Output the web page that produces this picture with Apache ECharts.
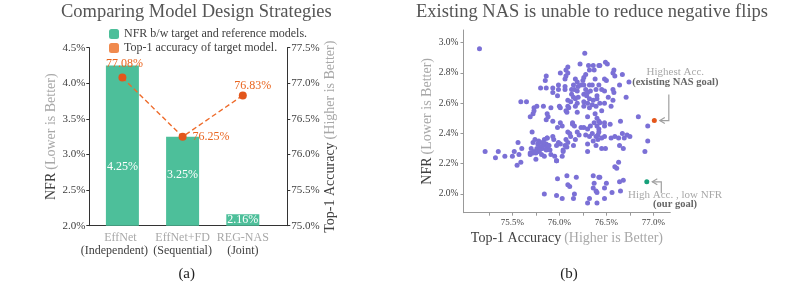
<!DOCTYPE html>
<html><head><meta charset="utf-8">
<script src="https://cdn.jsdelivr.net/npm/echarts@6/dist/echarts.min.js"></script>
<style>html,body{margin:0;padding:0;background:#fff}#c{width:788px;height:286px}</style>
</head><body><div id="c"></div>
<script>
// ---------- Panel (a) data ----------
const categories = ['EffNet', 'EffNet+FD', 'REG-NAS'];
const categoryModes = ['(Independent)', '(Sequential)', '(Joint)'];
const nfrValues = [4.25, 3.25, 2.16];          // NFR b/w target and reference models (%)
const accValues = [77.08, 76.25, 76.83];       // Top-1 accuracy of target model (%)

// ---------- Panel (b) data: [Top-1 accuracy %, NFR %] ----------
const nasModels = [
  [75.15,2.96],[75.59,2.61],[75.65,2.61],[75.73,2.57],[75.72,2.53],[75.69,2.51],
  [76.27,2.93],[76.22,2.86],[76.31,2.85],[76.36,2.85],[76.42,2.85],[76.32,2.82],[76.37,2.82],
  [76.09,2.84],[76.07,2.82],[76.09,2.80],[76.01,2.80],[76.07,2.78],[76.06,2.76],[76.17,2.76],
  [76.26,2.77],[76.28,2.79],[76.25,2.75],[76.38,2.76],[75.86,2.78],[75.85,2.75],[75.80,2.70],
  [75.86,2.70],[75.93,2.70],[75.99,2.72],[75.99,2.69],[76.06,2.71],[76.06,2.69],[76.15,2.72],
  [76.19,2.74],[76.20,2.71],[76.23,2.72],[76.26,2.72],[76.32,2.72],[76.35,2.72],[76.42,2.72],
  [76.13,2.69],[76.16,2.69],[76.19,2.68],[76.28,2.69],[76.30,2.67],[76.33,2.68],[76.39,2.69],
  [75.93,2.67],[75.98,2.65],[76.13,2.66],[76.15,2.64],[76.17,2.63],[76.20,2.64],[76.26,2.66],
  [76.29,2.65],[76.32,2.63],[76.36,2.62],[76.40,2.63],[76.40,2.65],[76.12,2.61],[76.19,2.60],
  [76.26,2.61],[76.30,2.60],[76.26,2.58],[76.32,2.57],[76.35,2.59],[76.39,2.58],[76.09,2.62],
  [76.09,2.58],[76.00,2.58],[76.01,2.57],[75.91,2.57],[75.83,2.58],[75.76,2.58],[76.07,2.55],
  [76.17,2.58],[76.10,2.57],[75.73,2.55],[75.87,2.53],[75.88,2.51],[75.86,2.49],[75.93,2.48],
  [76.08,2.54],[76.19,2.54],[76.30,2.51],[76.38,2.53],[76.40,2.50],[76.42,2.48],[76.14,2.47],
  [76.01,2.47],
  [76.43,2.85],[76.49,2.87],[76.51,2.86],[76.58,2.82],[76.57,2.80],[76.59,2.78],[76.48,2.76],
  [76.50,2.75],[76.67,2.79],[76.64,2.72],[76.74,2.74],[76.45,2.69],[76.48,2.68],[76.57,2.69],
  [76.58,2.67],[76.52,2.64],[76.57,2.62],[76.43,2.60],[76.48,2.60],[76.55,2.58],[76.71,2.64],
  [76.45,2.55],[76.84,2.51],[76.65,2.48],[76.48,2.47],
  [75.71,2.41],[75.72,2.34],[75.74,2.36],[75.56,2.34],[75.70,2.30],[75.60,2.30],[75.52,2.28],
  [75.69,2.26],[75.72,2.27],[75.35,2.28],[75.21,2.28],[75.42,2.25],[75.50,2.25],[75.57,2.26],
  [75.32,2.24],[75.55,2.19],[75.59,2.21],
  [75.98,2.44],[76.03,2.45],[76.14,2.46],[76.16,2.45],[76.23,2.44],[76.26,2.44],[76.30,2.43],
  [76.33,2.45],[76.37,2.47],[76.40,2.45],[76.42,2.43],[76.09,2.41],[76.11,2.40],[76.19,2.41],
  [76.21,2.39],[76.28,2.39],[76.32,2.38],[76.35,2.40],[76.39,2.38],[76.42,2.41],[75.93,2.38],
  [75.87,2.37],[75.84,2.36],[75.78,2.35],[75.77,2.33],[75.80,2.34],[75.86,2.33],[75.83,2.32],
  [75.87,2.31],[75.89,2.32],[75.82,2.30],[75.86,2.29],[75.78,2.28],[75.75,2.27],[75.75,2.23],
  [75.94,2.36],[75.99,2.34],[75.97,2.32],[76.01,2.33],[76.07,2.36],[76.06,2.32],[76.09,2.34],
  [76.04,2.29],[76.15,2.32],[76.17,2.36],[76.12,2.38],[75.91,2.26],[75.97,2.22],[76.30,2.33],
  [76.39,2.32],[76.30,2.28],[76.41,2.36],[76.36,2.35],
  [76.08,2.12],[75.98,2.10],[76.09,2.06],[76.11,2.05],[76.18,2.11],[76.36,2.12],[76.42,2.11],
  [76.37,2.07],[76.36,2.04],[76.39,2.02],[76.40,2.01],[76.16,2.00],[75.84,2.00],[75.97,1.99],
  [76.03,1.97],[76.15,1.97],[76.32,1.97],[76.30,1.94],[76.40,1.94],
  [76.43,2.47],[76.48,2.45],[76.54,2.46],[76.41,2.39],[76.45,2.37],[76.48,2.38],[76.55,2.37],
  [76.59,2.38],[76.63,2.37],[76.67,2.40],[76.69,2.37],[76.72,2.39],[76.75,2.38],[76.45,2.30],
  [76.49,2.30],[76.64,2.32],[76.68,2.30],[76.94,2.45],[76.94,2.35],[76.91,2.28],[76.59,2.18],
  [76.61,2.17],[76.63,2.21],[76.43,2.11],[76.50,2.07],[76.64,2.08],[76.68,2.09],[76.48,2.04],
  [76.56,2.01],[76.65,2.02],[76.48,1.97],
  [75.69,2.27],[75.73,2.28],[75.76,2.30],[75.79,2.31],[75.83,2.34],[75.87,2.37],[75.79,2.29],
  [75.81,2.26],[75.84,2.25],[75.87,2.30],[75.88,2.32],[75.90,2.29],[75.95,2.25],[75.97,2.22],
  [76.03,2.25],[76.04,2.28],[76.08,2.31]
];
const highestAccModel = [77.01, 2.485];   // existing NAS goal
const ourGoalModel = [76.93, 2.08];       // high acc., low NFR

const accTickValues = [75.25, 75.5, 75.75, 76.0, 76.25, 76.5, 76.75, 77.0];
const accLabelValues = [75.5, 76.0, 76.5, 77.0];
const nfrTickValues = [2.0, 2.2, 2.4, 2.6, 2.8, 3.0];

// ---------- styling ----------
const F = '"Liberation Serif", "Times New Roman", serif';
const GREEN = '#4dbf9a', ORANGE = '#e9651f', PURPLE = '#7b70d6';
const DARK = '#404040', LIGHT = '#a8a8a8';
const pct1 = v => v.toFixed(1) + '%';

const barLabelTop = [101, 38, 6];   // label centre offset from bar top (px)
const lineLabels = [
  {position: 'top', distance: 4, offset: [2, 0]},
  {position: 'right', distance: 6},
  {position: 'top', distance: 0, offset: [10, 0]}
];

const chart = echarts.init(document.getElementById('c'), null, {renderer: 'canvas'});

const nameRich = {
  d: {color: DARK, fontSize: 14, fontFamily: F},
  l: {color: LIGHT, fontSize: 14, fontFamily: F}
};
const catRich = {
  a: {color: LIGHT, fontSize: 12, fontFamily: F, lineHeight: 12.5},
  b: {color: DARK, fontSize: 12, fontFamily: F, lineHeight: 12.5},
  a0: {color: LIGHT, fontSize: 12, fontFamily: F, lineHeight: 12.5, padding: [0, 4, 0, 0]},
  b0: {color: DARK, fontSize: 12, fontFamily: F, lineHeight: 12.5, padding: [0, 16, 0, 0]}
};

const option = {
  animation: false,
  backgroundColor: '#fff',
  textStyle: {fontFamily: F},
  legend: {
    orient: 'vertical', left: 104, top: 23, itemWidth: 10, itemHeight: 10, itemGap: 2,
    textStyle: {fontSize: 12, color: DARK, fontFamily: F},
    selectedMode: false,
    data: [
      {name: 'NFR b/w target and reference models.', icon: 'roundRect', itemStyle: {color: GREEN}},
      {name: 'Top-1 accuracy of target model.', icon: 'roundRect', itemStyle: {color: '#f08a4e'}}
    ]
  },
  grid: [
    {left: 92.3, top: 47.7, width: 180.6, height: 178, outerBoundsMode: 'none'},
    {left: 89.3, top: 47.7, width: 198, height: 178, outerBoundsMode: 'none'},
    {left: 463.5, top: 30, width: 206.8, height: 182.7, outerBoundsMode: 'none'}
  ],
  xAxis: [
    {
      gridIndex: 0, type: 'category', data: categories,
      axisLine: {show: false}, axisTick: {show: false}, splitLine: {show: false},
      axisLabel: {
        margin: 6, interval: 0,
        formatter: (v, i) => i === 0
          ? '{a0|' + v + '}\n{b0|' + categoryModes[i] + '}'
          : '{a|' + v + '}\n{b|' + categoryModes[i] + '}',
        rich: catRich
      }
    },
    {
      gridIndex: 1, type: 'value', min: 0, max: 1,
      axisLine: {show: true, lineStyle: {color: '#333', width: 1}},
      axisTick: {show: false}, axisLabel: {show: false}, splitLine: {show: false}
    },
    {
      gridIndex: 2, type: 'value', min: 74.98, max: 77.18,
      axisLine: {show: true, lineStyle: {color: '#999', width: 1}},
      axisTick: {show: true, customValues: accTickValues, length: 3, lineStyle: {color: '#999'}},
      axisLabel: {customValues: accLabelValues, formatter: pct1, fontSize: 9, color: DARK, fontFamily: F, margin: 5},
      splitLine: {show: false},
      name: '{d|Top-1 Accuracy} {l|(Higher is Better)}', nameLocation: 'middle', nameGap: 14,
      nameTextStyle: {rich: nameRich}
    }
  ],
  yAxis: [
    {
      gridIndex: 0, type: 'value', position: 'left', offset: 3, min: 2, max: 4.5, interval: 0.5,
      axisLine: {show: true, lineStyle: {color: '#333', width: 1}},
      axisTick: {show: true, length: 3, lineStyle: {color: '#333'}},
      axisLabel: {formatter: pct1, fontSize: 11, color: DARK, fontFamily: F, margin: 4},
      splitLine: {show: false},
      name: '{d|NFR} {l|(Lower is Better)}', nameLocation: 'middle', nameRotate: 90, nameGap: 25,
      nameTextStyle: {rich: nameRich}
    },
    {
      gridIndex: 0, type: 'value', position: 'right', offset: 14.4, min: 75, max: 77.5, interval: 0.5,
      axisLine: {show: true, lineStyle: {color: '#333', width: 1}},
      axisTick: {show: true, length: 3, lineStyle: {color: '#333'}},
      axisLabel: {formatter: pct1, fontSize: 11, color: DARK, fontFamily: F, margin: 4},
      splitLine: {show: false},
      name: '{d|Top-1 Accuracy} {l|(Higher is Better)}', nameLocation: 'middle', nameRotate: 90, nameGap: 34,
      nameTextStyle: {rich: nameRich}
    },
    {gridIndex: 1, type: 'value', show: false, min: 0, max: 1},
    {
      gridIndex: 2, type: 'value', min: 1.876, max: 3.084,
      axisLine: {show: true, lineStyle: {color: '#999', width: 1}},
      axisTick: {show: true, customValues: nfrTickValues, length: 3, lineStyle: {color: '#999'}},
      axisLabel: {customValues: nfrTickValues, formatter: pct1, fontSize: 9.5, color: DARK, fontFamily: F, margin: 5},
      splitLine: {show: false},
      name: '{d|NFR} {l|(Lower is Better)}', nameLocation: 'middle', nameRotate: 90, nameGap: 26,
      nameTextStyle: {rich: nameRich}
    }
  ],
  series: [
    {
      name: 'NFR b/w target and reference models.', type: 'bar', xAxisIndex: 0, yAxisIndex: 0,
      barWidth: 33, itemStyle: {color: GREEN},
      label: {show: true, formatter: p => p.value.toFixed(2) + '%', color: '#fff', fontSize: 12,
              fontFamily: F, align: 'center', verticalAlign: 'middle'},
      data: nfrValues.map((v, i) => ({value: v, label: {position: ['50%', barLabelTop[i]]}}))
    },
    {
      name: 'Top-1 accuracy of target model.', type: 'line', xAxisIndex: 0, yAxisIndex: 1,
      symbol: 'circle', symbolSize: 8,
      lineStyle: {color: '#ee6b2b', width: 1.4, type: [5, 3]},
      itemStyle: {color: '#e2561c'},
      label: {show: true, formatter: p => p.value.toFixed(2) + '%', color: ORANGE, fontSize: 12, fontFamily: F},
      data: accValues.map((v, i) => ({value: v, label: lineLabels[i]}))
    },
    {
      name: 'NAS models', type: 'scatter', xAxisIndex: 2, yAxisIndex: 3, symbolSize: 5,
      itemStyle: {color: PURPLE, opacity: 1}, data: nasModels
    },
    {
      name: 'Highest Acc.', type: 'scatter', xAxisIndex: 2, yAxisIndex: 3, symbolSize: 5,
      itemStyle: {color: '#e4561b', opacity: 1}, data: [highestAccModel]
    },
    {
      name: 'Our goal', type: 'scatter', xAxisIndex: 2, yAxisIndex: 3, symbolSize: 5,
      itemStyle: {color: '#17a07a', opacity: 1}, data: [ourGoalModel]
    }
  ]
};
chart.setOption(option);

// ---------- annotations, anchored to the highlighted points ----------
const pA = chart.convertToPixel({gridIndex: 2}, highestAccModel);
const pB = chart.convertToPixel({gridIndex: 2}, ourGoalModel);
const AR = '#a0a0a0';
function arrow(p, dy) {
  const cx = p[0] + 14.5, tip = p[0] + 5.5;
  return [
    {type: 'polyline', shape: {points: [[cx, p[1] + dy], [cx, p[1]], [tip, p[1]]]},
     style: {stroke: AR, lineWidth: 1.2, fill: null}, silent: true},
    {type: 'polyline', shape: {points: [[tip + 5, p[1] - 3], [tip, p[1]], [tip + 5, p[1] + 3]]},
     style: {stroke: AR, lineWidth: 1.2, fill: null}, silent: true}
  ];
}
function txt(x, y, text, size, color, weight) {
  return {type: 'text', x: x, y: y, silent: true,
    style: {text: text, fill: color, font: (weight || 'normal') + ' ' + size + 'px ' + F,
            align: 'center', verticalAlign: 'middle'}};
}
chart.setOption({
  graphic: [
    txt(196.3, 12, 'Comparing Model Design Strategies', 18.5, '#555'),
    txt(592, 12, 'Existing NAS is unable to reduce negative flips', 18.5, '#555'),
    txt(186.7, 274, '(a)', 15, '#222'),
    txt(569, 274, '(b)', 15, '#222'),
    ...arrow(pA, -26),
    ...arrow(pB, 11.5),
    txt(pA[0] + 21, pA[1] - 48, 'Highest Acc.', 11, LIGHT),
    txt(pA[0] + 21, pA[1] - 38, '(existing NAS goal)', 10.5, '#666', 'bold'),
    txt(pB[0] + 28.3, pB[1] + 13.3, 'High Acc. , low NFR', 11, LIGHT),
    txt(pB[0] + 28.3, pB[1] + 22.6, '(our goal)', 10.5, '#666', 'bold')
  ]
});
</script></body></html>
